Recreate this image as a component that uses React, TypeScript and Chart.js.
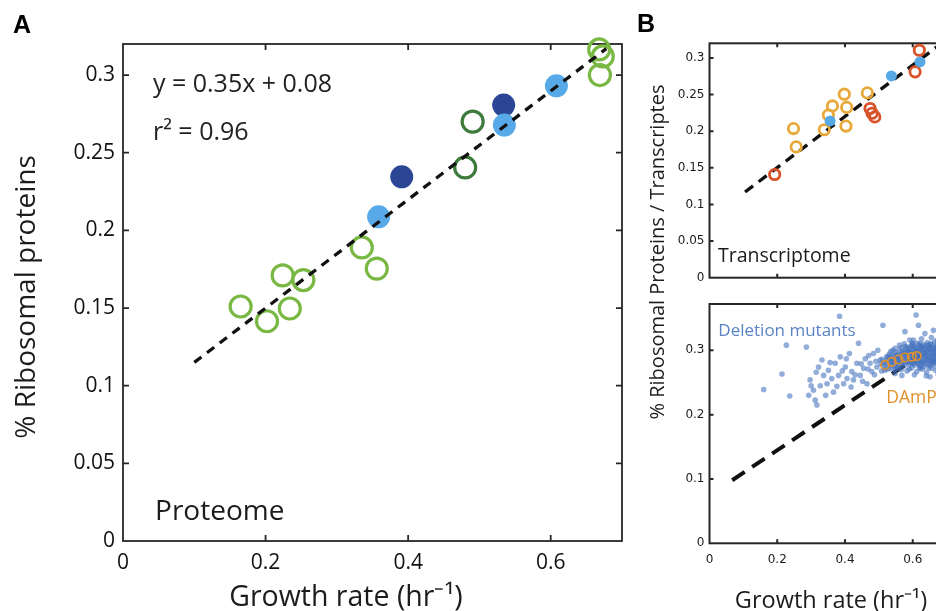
import React, { useEffect, useRef } from 'react';
import { Chart, registerables } from 'chart.js';

Chart.register(...registerables);

// ---------------- Panel A : proteome ----------------
const aLightGreenX = [0.165, 0.202, 0.224, 0.234, 0.253, 0.335, 0.356, 0.669, 0.668, 0.673];
const aLightGreenY = [0.151, 0.1415, 0.171, 0.1497, 0.168, 0.189, 0.1754, 0.3, 0.3165, 0.312];
const aDarkGreenX = [0.48, 0.4905];
const aDarkGreenY = [0.2405, 0.27];
const aDarkBlueX = [0.391, 0.534];
const aDarkBlueY = [0.2345, 0.2807];
const aLightBlueX = [0.3586, 0.535, 0.608];
const aLightBlueY = [0.2087, 0.2678, 0.2931];
const aFitX = [0.1, 0.678];
const aFitY = [0.115, 0.317];

// ---------------- Panel B (top) : transcriptome ----------------
const bRedX = [0.1924, 0.474, 0.48, 0.488, 0.607, 0.6195];
const bRedY = [0.1409, 0.231, 0.2245, 0.2195, 0.281, 0.3105];
const bYellowX = [0.248, 0.256, 0.339, 0.351, 0.363, 0.398, 0.405, 0.403, 0.466];
const bYellowY = [0.2036, 0.1786, 0.202, 0.222, 0.2345, 0.2505, 0.2325, 0.207, 0.2523];
const bBlueX = [0.356, 0.537, 0.6215];
const bBlueY = [0.214, 0.2755, 0.2946];
const bFitX = [0.105, 0.69];
const bFitY = [0.117, 0.3215];

// ---------------- Panel B (bottom) : deletion mutants ----------------
const deletionMutants: [number, number][] = [
  [0.160, 0.239], [0.214, 0.263], [0.237, 0.229], [0.227, 0.308], [0.286, 0.305], [0.384, 0.353],
  [0.297, 0.254], [0.307, 0.238], [0.312, 0.2225], [0.317, 0.215], [0.322, 0.274], [0.332, 0.285],
  [0.337, 0.261], [0.347, 0.248], [0.351, 0.269], [0.361, 0.256], [0.366, 0.235], [0.371, 0.28],
  [0.381, 0.261], [0.386, 0.29], [0.396, 0.248], [0.401, 0.274], [0.406, 0.256], [0.413, 0.295],
  [0.42, 0.267], [0.425, 0.254], [0.435, 0.28], [0.44, 0.311], [0.445, 0.261], [0.455, 0.272],
  [0.46, 0.287], [0.465, 0.248], [0.474, 0.28], [0.479, 0.267], [0.484, 0.295], [0.494, 0.274],
  [0.504, 0.285], [0.512, 0.339], [0.518, 0.269], [0.523, 0.29], [0.533, 0.277], [0.541, 0.3],
  [0.548, 0.264], [0.561, 0.308], [0.568, 0.261], [0.577, 0.329], [0.602, 0.316], [0.61, 0.355],
  [0.617, 0.339], [0.622, 0.272], [0.636, 0.326], [0.651, 0.259], [0.661, 0.331],
  [0.293, 0.23], [0.3, 0.245], [0.315, 0.266], [0.327, 0.245], [0.343, 0.23], [0.356, 0.281],
  [0.376, 0.244], [0.392, 0.268], [0.404, 0.287], [0.418, 0.243], [0.43, 0.262], [0.448, 0.279],
  [0.452, 0.252], [0.468, 0.271], [0.47, 0.292], [0.487, 0.262], [0.491, 0.283], [0.497, 0.3],
  [0.508, 0.268], [0.515, 0.281], [0.527, 0.271], [0.53, 0.294], [0.538, 0.285], [0.545, 0.276],
  [0.552, 0.292], [0.557, 0.272], [0.562, 0.283],
  [0.566, 0.27], [0.583, 0.268], [0.597, 0.273], [0.612, 0.267], [0.628, 0.271], [0.641, 0.266],
  [0.655, 0.272], [0.668, 0.269], [0.681, 0.274], [0.574, 0.276], [0.605, 0.277], [0.633, 0.275],
  [0.662, 0.277], [0.69, 0.271],
  [0.545, 0.281], [0.553, 0.279], [0.561, 0.284], [0.571, 0.28], [0.579, 0.283], [0.588, 0.278],
  [0.594, 0.282], [0.603, 0.28], [0.609, 0.284], [0.617, 0.279], [0.624, 0.283], [0.631, 0.28],
  [0.639, 0.284], [0.646, 0.279], [0.652, 0.282], [0.659, 0.28], [0.666, 0.284], [0.673, 0.279],
  [0.679, 0.282], [0.688, 0.28], [0.695, 0.283],
  [0.549, 0.287], [0.558, 0.289], [0.566, 0.286], [0.575, 0.29], [0.583, 0.287], [0.591, 0.289],
  [0.598, 0.286], [0.606, 0.29], [0.613, 0.287], [0.62, 0.289], [0.627, 0.286], [0.635, 0.29],
  [0.642, 0.287], [0.649, 0.289], [0.656, 0.286], [0.663, 0.29], [0.67, 0.287], [0.677, 0.289],
  [0.684, 0.286], [0.692, 0.288],
  [0.556, 0.294], [0.564, 0.292], [0.572, 0.295], [0.58, 0.293], [0.587, 0.296], [0.595, 0.292],
  [0.602, 0.295], [0.61, 0.293], [0.618, 0.296], [0.625, 0.292], [0.632, 0.295], [0.64, 0.293],
  [0.647, 0.296], [0.654, 0.292], [0.661, 0.295], [0.668, 0.293], [0.676, 0.296], [0.683, 0.292],
  [0.69, 0.295],
  [0.569, 0.299], [0.578, 0.301], [0.586, 0.298], [0.593, 0.302], [0.601, 0.299], [0.608, 0.301],
  [0.615, 0.298], [0.623, 0.302], [0.63, 0.299], [0.637, 0.301], [0.644, 0.298], [0.651, 0.302],
  [0.658, 0.299], [0.665, 0.301], [0.673, 0.298], [0.681, 0.301], [0.688, 0.298],
  [0.584, 0.305], [0.596, 0.307], [0.607, 0.304], [0.619, 0.308], [0.628, 0.305], [0.639, 0.307],
  [0.648, 0.304], [0.657, 0.309], [0.667, 0.305], [0.676, 0.307], [0.686, 0.304], [0.613, 0.311],
  [0.643, 0.312], [0.664, 0.313],
  [0.591, 0.316], [0.626, 0.318], [0.655, 0.32], [0.672, 0.316], [0.68, 0.322], [0.605, 0.262],
  [0.64, 0.26], [0.675, 0.263], [0.7, 0.278], [0.698, 0.292], [0.539, 0.291], [0.547, 0.27],
  [0.535, 0.283],
  [0.52, 0.273], [0.535, 0.272], [0.55, 0.274], [0.59, 0.271], [0.62, 0.274], [0.648, 0.273],
  [0.675, 0.272], [0.697, 0.275],
  [0.505, 0.279], [0.515, 0.277], [0.525, 0.28], [0.536, 0.278], [0.557, 0.276], [0.566, 0.279],
  [0.584, 0.281], [0.599, 0.279], [0.613, 0.281], [0.621, 0.277], [0.636, 0.279], [0.649, 0.277],
  [0.662, 0.282], [0.684, 0.278], [0.699, 0.28],
  [0.51, 0.286], [0.522, 0.284], [0.531, 0.287], [0.541, 0.285], [0.554, 0.284], [0.57, 0.285],
  [0.587, 0.284], [0.6, 0.283], [0.616, 0.285], [0.628, 0.283], [0.644, 0.285], [0.658, 0.284],
  [0.672, 0.283], [0.686, 0.284], [0.7, 0.286],
  [0.527, 0.29], [0.545, 0.292], [0.56, 0.29], [0.579, 0.291], [0.594, 0.29], [0.609, 0.29],
  [0.623, 0.291], [0.637, 0.292], [0.652, 0.291], [0.666, 0.291], [0.68, 0.29], [0.695, 0.29],
  [0.535, 0.298], [0.55, 0.297], [0.562, 0.299], [0.576, 0.297], [0.59, 0.297], [0.604, 0.297],
  [0.619, 0.299], [0.634, 0.297], [0.648, 0.3], [0.663, 0.297], [0.678, 0.299], [0.694, 0.297],
  [0.548, 0.303], [0.565, 0.304], [0.578, 0.306], [0.59, 0.303], [0.603, 0.306], [0.614, 0.303],
  [0.624, 0.306], [0.634, 0.304], [0.645, 0.308], [0.653, 0.305], [0.662, 0.303], [0.671, 0.306],
  [0.681, 0.304], [0.694, 0.305],
  [0.575, 0.31], [0.598, 0.311], [0.622, 0.311], [0.632, 0.309], [0.652, 0.31], [0.674, 0.311],
  [0.69, 0.31], [0.6, 0.31],
];
const dampX = [0.518, 0.538, 0.558, 0.577, 0.597, 0.612];
const dampY = [0.277, 0.282, 0.2857, 0.289, 0.2898, 0.291];
const cFitX = [0.067, 0.62];
const cFitY = [0.098, 0.292];

// tick definitions
const xTickStep = 0.2;
const yTickStepTop = 0.05;
const yTickStepBottom = 0.1;

const FONT = '"Open Sans", sans-serif';
const SMALL_FONT = '"DejaVu Sans", sans-serif';
const INK = '#1c1c1c';

const zip = (xs: number[], ys: number[]) => xs.map((x, i) => ({ x, y: ys[i] }));
const fmt = (v: any) => String(Math.round(Number(v) * 100) / 100);

type TextItem = {
  text: string; x: number; y: number; data?: boolean; font: string;
  color?: string; align?: CanvasTextAlign; baseline?: CanvasTextBaseline; rotate?: number;
};

function decor(frameWidth: number, tickLen: number, texts: TextItem[]) {
  return {
    id: 'decor',
    beforeDatasetsDraw(chart: any) {
      const { ctx, chartArea: ca, scales } = chart;
      ctx.save();
      ctx.strokeStyle = '#262626';
      ctx.lineWidth = frameWidth;
      ctx.strokeRect(ca.left, ca.top, ca.right - ca.left, ca.bottom - ca.top);
      ctx.beginPath();
      scales.x.ticks.forEach((t: any) => {
        const p = scales.x.getPixelForValue(t.value);
        if (Math.abs(p - ca.left) < 2 || Math.abs(p - ca.right) < 2) return;
        ctx.moveTo(p, ca.bottom); ctx.lineTo(p, ca.bottom - tickLen);
        ctx.moveTo(p, ca.top); ctx.lineTo(p, ca.top + tickLen);
      });
      scales.y.ticks.forEach((t: any) => {
        const p = scales.y.getPixelForValue(t.value);
        if (Math.abs(p - ca.bottom) < 2 || Math.abs(p - ca.top) < 2) return;
        ctx.moveTo(ca.left, p); ctx.lineTo(ca.left + tickLen, p);
        ctx.moveTo(ca.right, p); ctx.lineTo(ca.right - tickLen, p);
      });
      ctx.stroke();
      ctx.restore();
    },
    afterDraw(chart: any) {
      const { ctx, scales } = chart;
      texts.forEach((t) => {
        const px = t.data ? scales.x.getPixelForValue(t.x) : t.x;
        const py = t.data ? scales.y.getPixelForValue(t.y) : t.y;
        ctx.save();
        ctx.translate(px, py);
        if (t.rotate) ctx.rotate(t.rotate);
        ctx.font = t.font;
        ctx.fillStyle = t.color || INK;
        ctx.textAlign = t.align || 'left';
        ctx.textBaseline = t.baseline || 'alphabetic';
        ctx.fillText(t.text, 0, 0);
        ctx.restore();
      });
    },
  };
}

function openCircles(xs: number[], ys: number[], color: string, r: number, bw: number) {
  return {
    data: zip(xs, ys), showLine: false, clip: false,
    pointRadius: r, pointBorderWidth: bw, pointBorderColor: color,
    pointBackgroundColor: 'rgba(0,0,0,0)', borderColor: color, backgroundColor: 'rgba(0,0,0,0)',
  };
}
function filledCircles(xs: number[], ys: number[], color: string, r: number) {
  return {
    data: zip(xs, ys), showLine: false, clip: false,
    pointRadius: r, pointBorderWidth: 0, pointBorderColor: color,
    pointBackgroundColor: color, borderColor: color, backgroundColor: color,
  };
}
function fitLine(xs: number[], ys: number[], width: number, dash: number[]) {
  return {
    data: zip(xs, ys), showLine: true, pointRadius: 0, borderColor: '#111',
    borderWidth: width, borderDash: dash, borderCapStyle: 'butt', fill: false,
  };
}

function axes(opts: {
  xMax: number; yMax: number; yStep: number; showX: boolean; font: any; color: string;
  xPad: number; yPad: number; yWidth: number; xHeight: number;
}) {
  return {
    x: {
      type: 'linear', min: 0, max: opts.xMax,
      grid: { display: false, drawTicks: false }, border: { display: false },
      ticks: {
        display: opts.showX, stepSize: xTickStep, includeBounds: false, padding: opts.xPad,
        font: opts.font, color: opts.color, callback: fmt, maxRotation: 0, autoSkip: false,
      },
      afterFit: (s: any) => { s.height = opts.xHeight; },
    },
    y: {
      type: 'linear', min: 0, max: opts.yMax,
      grid: { display: false, drawTicks: false }, border: { display: false },
      ticks: {
        stepSize: opts.yStep, includeBounds: false, padding: opts.yPad,
        font: opts.font, color: opts.color, callback: fmt, autoSkip: false,
      },
      afterFit: (s: any) => { s.width = opts.yWidth; },
    },
  };
}

const baseOptions = {
  responsive: false,
  animation: false,
  events: [],
  plugins: { legend: { display: false }, tooltip: { enabled: false } },
};

export default function App() {
  const aRef = useRef<HTMLCanvasElement>(null);
  const btRef = useRef<HTMLCanvasElement>(null);
  const bbRef = useRef<HTMLCanvasElement>(null);

  useEffect(() => {
    const lightGreen = '#78b843';
    const darkGreen = '#3d7b3b';
    const darkBlue = '#2c4696';
    const lightBlue = '#58a9e8';
    const red = '#d9532a';
    const yellow = '#e8a93a';
    const cloud = 'rgba(68,114,190,0.58)';
    const orange = '#e0912c';

    const chartA = new Chart(aRef.current as HTMLCanvasElement, {
      type: 'scatter',
      data: {
        datasets: [
          fitLine(aFitX, aFitY, 3.3, [9, 7]),
          filledCircles(aLightBlueX, aLightBlueY, lightBlue, 11.5),
          filledCircles(aDarkBlueX, aDarkBlueY, darkBlue, 11.5),
          openCircles(aDarkGreenX, aDarkGreenY, darkGreen, 10.5, 3.2),
          openCircles(aLightGreenX, aLightGreenY, lightGreen, 10.5, 3.2),
        ] as any,
      },
      options: {
        ...baseOptions,
        layout: { padding: { left: 0, top: 44, right: 314, bottom: 0 } },
        scales: axes({
          xMax: 0.7, yMax: 0.32, yStep: yTickStepTop, showX: true,
          font: { family: FONT, size: 21 }, color: '#111', xPad: 9, yPad: 8, yWidth: 123, xHeight: 70,
        }),
      } as any,
      plugins: [decor(1.8, 6, [
        { text: 'A', x: 13, y: 33, font: 'bold 25px "Liberation Sans", sans-serif', color: '#000' },
        { text: 'B', x: 637, y: 32, font: 'bold 25px "Liberation Sans", sans-serif', color: '#000' },
        { text: 'y = 0.35x + 0.08', x: 0.042, y: 0.2894, data: true, font: `25px ${FONT}`, color: '#222' },
        { text: 'r² = 0.96', x: 0.042, y: 0.2581, data: true, font: `25px ${FONT}`, color: '#222' },
        { text: 'Proteome', x: 0.045, y: 0.0133, data: true, font: `28px ${FONT}` },
        { text: 'Growth rate (hr⁻¹)', x: 346, y: 606, align: 'center', font: `28.5px ${FONT}` },
        { text: '% Ribosomal proteins', x: 27, y: 297, align: 'center', baseline: 'middle', rotate: -Math.PI / 2, font: `28px ${FONT}` },
        { text: '% Ribosomal Proteins / Transcriptes', x: 658, y: 252, align: 'center', baseline: 'middle', rotate: -Math.PI / 2, font: `20px ${FONT}` },
      ])],
    } as any);

    const chartBT = new Chart(btRef.current as HTMLCanvasElement, {
      type: 'scatter',
      data: {
        datasets: [
          filledCircles(bBlueX, bBlueY, lightBlue, 5.5),
          openCircles(bRedX, bRedY, red, 5.2, 2.8),
          openCircles(bYellowX, bYellowY, yellow, 5.2, 2.8),
          fitLine(bFitX, bFitY, 3.4, [10, 7]),
        ] as any,
      },
      options: {
        ...baseOptions,
        layout: { padding: { left: 0, top: 43.3, right: 33.4, bottom: 0 } },
        scales: axes({
          xMax: 0.7, yMax: 0.32, yStep: yTickStepTop, showX: false,
          font: { family: SMALL_FONT, size: 12 }, color: INK, xPad: 0, yPad: 5, yWidth: 69.5, xHeight: 12.3,
        }),
      } as any,
      plugins: [decor(2, 4, [
        { text: 'Transcriptome', x: 0.025, y: 0.0218, data: true, font: `19.5px ${FONT}` },
      ])],
    } as any);

    const chartBB = new Chart(bbRef.current as HTMLCanvasElement, {
      type: 'scatter',
      data: {
        datasets: [
          openCircles(dampX, dampY, orange, 4.2, 1.6),
          {
            data: deletionMutants.map(([x, y]) => ({ x, y })), showLine: false,
            pointRadius: 2.8, pointBorderWidth: 0, pointBackgroundColor: cloud,
            pointBorderColor: cloud, backgroundColor: cloud, borderColor: cloud,
          },
          fitLine(cFitX, cFitY, 4, [15, 9]),
        ] as any,
      },
      options: {
        ...baseOptions,
        layout: { padding: { left: 0, top: 14, right: 33.4, bottom: 0 } },
        scales: axes({
          xMax: 0.7, yMax: 0.372, yStep: yTickStepBottom, showX: true,
          font: { family: SMALL_FONT, size: 12 }, color: INK, xPad: 9.5, yPad: 5, yWidth: 69.5, xHeight: 67.7,
        }),
      } as any,
      plugins: [decor(2, 4, [
        { text: 'Deletion mutants', x: 0.026, y: 0.322, data: true, font: `17px ${FONT}`, color: '#5a84c4' },
        { text: 'DAmP', x: 0.522, y: 0.2183, data: true, font: `17.5px ${FONT}`, color: orange },
        { text: 'Growth rate (hr⁻¹)', x: 191, y: 318, align: 'center', font: `23.5px ${FONT}` },
      ])],
    } as any);

    return () => {
      chartA.destroy();
      chartBT.destroy();
      chartBB.destroy();
    };
  }, []);

  return (
    <div style={{ position: 'relative', width: 936, height: 611, overflow: 'hidden', background: '#fff' }}>
      <style>{'html,body{margin:0;padding:0;overflow:hidden;}'}</style>
      <canvas ref={aRef} width={936} height={611} style={{ position: 'absolute', left: 0, top: 0 }} />
      <canvas ref={btRef} width={340} height={290} style={{ position: 'absolute', left: 640, top: 0 }} />
      <canvas ref={bbRef} width={340} height={321} style={{ position: 'absolute', left: 640, top: 290 }} />
    </div>
  );
}
